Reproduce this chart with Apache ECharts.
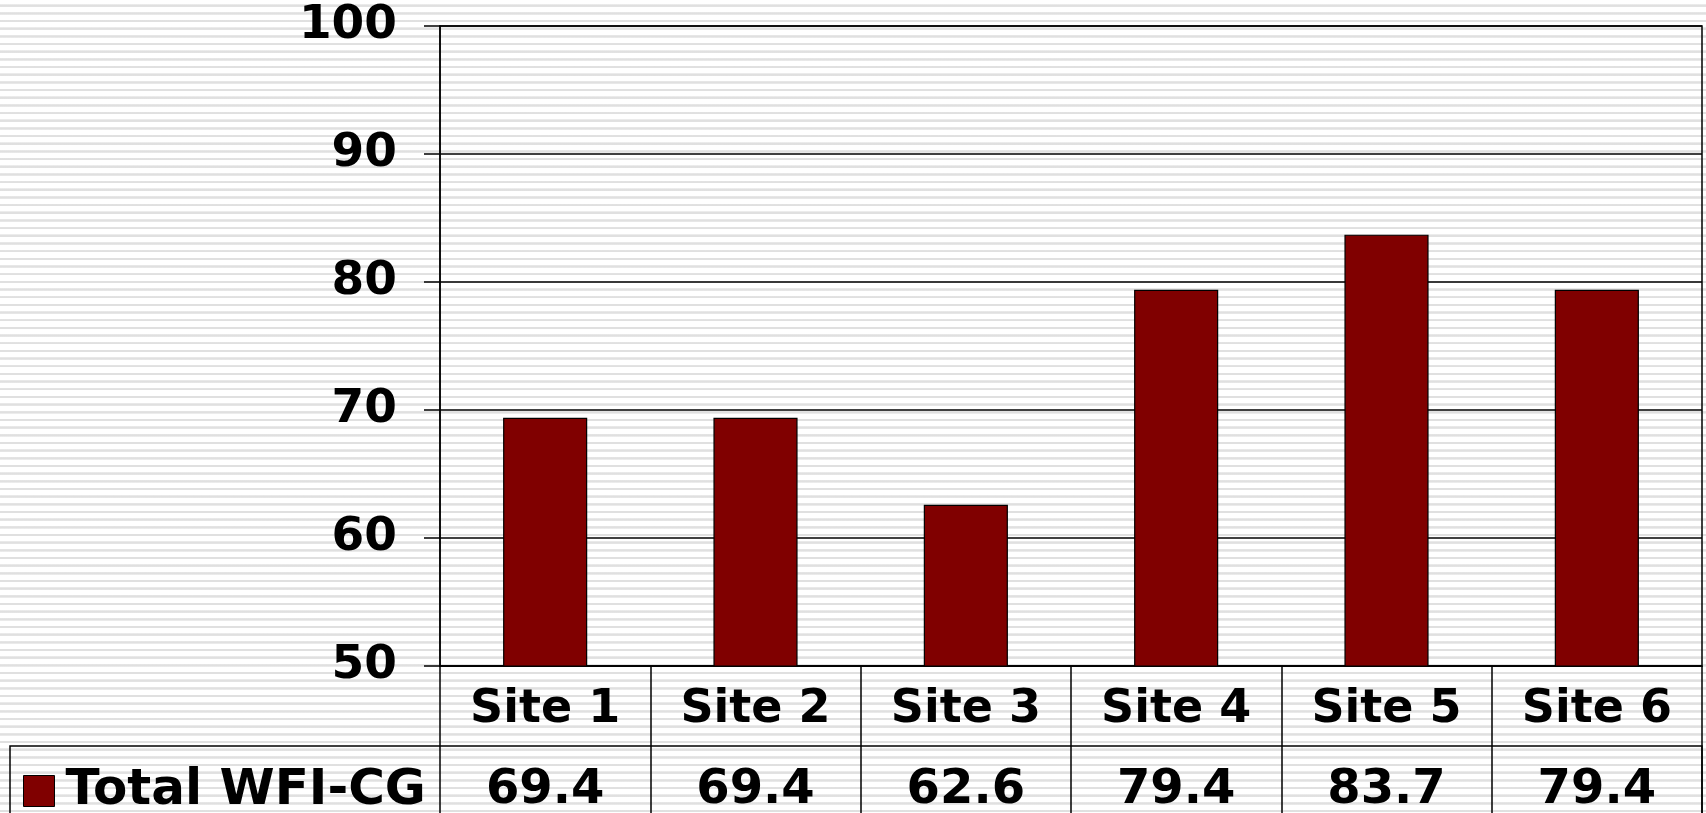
<!DOCTYPE html>
<html>
<head>
<meta charset="utf-8">
<script src="https://cdn.jsdelivr.net/npm/echarts@6/dist/echarts.min.js"></script>
<style>
  html, body { margin: 0; padding: 0; }
  body {
    width: 1706px; height: 813px; overflow: hidden;
    background: repeating-linear-gradient(to bottom,
      #ffffff 0px, #ffffff 4.4px,
      #ececec 4.4px, #e0e0e0 5.2px, #e0e0e0 6.4px, #ececec 7.0px,
      #ffffff 7.0px, #ffffff 7.67px);
  }
  #chart { width: 1706px; height: 813px; }
</style>
</head>
<body>
<div id="chart"></div>
<script>
// ---- data ----
const categories = ['Site 1', 'Site 2', 'Site 3', 'Site 4', 'Site 5', 'Site 6'];
const seriesName = 'Total WFI-CG';
const values = [69.4, 69.4, 62.6, 79.4, 83.7, 79.4];
const yTicks = { min: 50, max: 100, interval: 10 };

// ---- layout ----
const W = 1706, H = 813;
const gridLeft = 440, gridRight = 4, gridTop = 26, gridBottom = 147;
const catRowH = 80;
const font = '"DejaVu Sans", Verdana, sans-serif';

const chart = echarts.init(document.getElementById('chart'), null, { width: W, height: H });
const axisY = H - gridBottom;          // y of the category axis
const legendRowTop = axisY + catRowH;  // top of the data-table row

chart.setOption({
  animation: false,
  backgroundColor: 'transparent',
  grid: {
    left: gridLeft, right: gridRight, top: gridTop, bottom: gridBottom,
    containLabel: false, outerBoundsMode: 'none',
    show: true, borderColor: '#000', borderWidth: 1.5, backgroundColor: 'transparent'
  },
  legend: {
    data: [seriesName],
    left: 23, top: legendRowTop + 20,
    padding: 0,
    icon: 'rect', itemWidth: 31, itemHeight: 31,
    itemStyle: { color: '#800000', borderColor: '#000', borderWidth: 1 },
    textStyle: { fontFamily: font, fontWeight: 'bold', fontSize: 50, color: '#000', padding: [10, 0, 0, 6] }
  },
  xAxis: [
    {
      type: 'category', data: categories, position: 'bottom',
      axisLine: { show: true, lineStyle: { color: '#000', width: 1.5 } },
      axisTick: { show: true, length: gridBottom + 10, lineStyle: { color: '#000', width: 1.5 } },
      axisLabel: {
        margin: 4, lineHeight: catRowH, fontFamily: font, fontWeight: 'bold',
        fontSize: 46, color: '#000', interval: 0
      },
      splitLine: { show: false }
    },
    {
      type: 'category', data: values.map(v => v.toFixed(1)), position: 'bottom',
      offset: catRowH,
      axisLine: { show: false }, axisTick: { show: false },
      axisLabel: {
        margin: 2, lineHeight: 86, fontFamily: font, fontWeight: 'bold',
        fontSize: 48, color: '#000', interval: 0
      },
      splitLine: { show: false }
    }
  ],
  yAxis: {
    type: 'value', min: yTicks.min, max: yTicks.max, interval: yTicks.interval,
    axisLine: { show: true, lineStyle: { color: '#000', width: 1.5 } },
    axisTick: { show: true, length: 16, lineStyle: { color: '#000', width: 1.5 } },
    axisLabel: { margin: 43, fontFamily: font, fontWeight: 'bold', fontSize: 47, color: '#000', padding: [8, 0, 0, 0] },
    splitLine: { show: true, lineStyle: { color: '#000', width: 1.5 } }
  },
  graphic: [
    {
      type: 'rect', silent: true, z: 10,
      shape: { x: 10, y: legendRowTop, width: W - gridRight - 10, height: 200 },
      style: { fill: 'none', stroke: '#000', lineWidth: 1.5 }
    }
  ],
  series: [
    {
      name: seriesName, type: 'bar', xAxisIndex: 0, data: values,
      barWidth: '40%',
      itemStyle: { color: '#800000', borderColor: '#000', borderWidth: 1.2 }
    }
  ]
});
</script>
</body>
</html>
